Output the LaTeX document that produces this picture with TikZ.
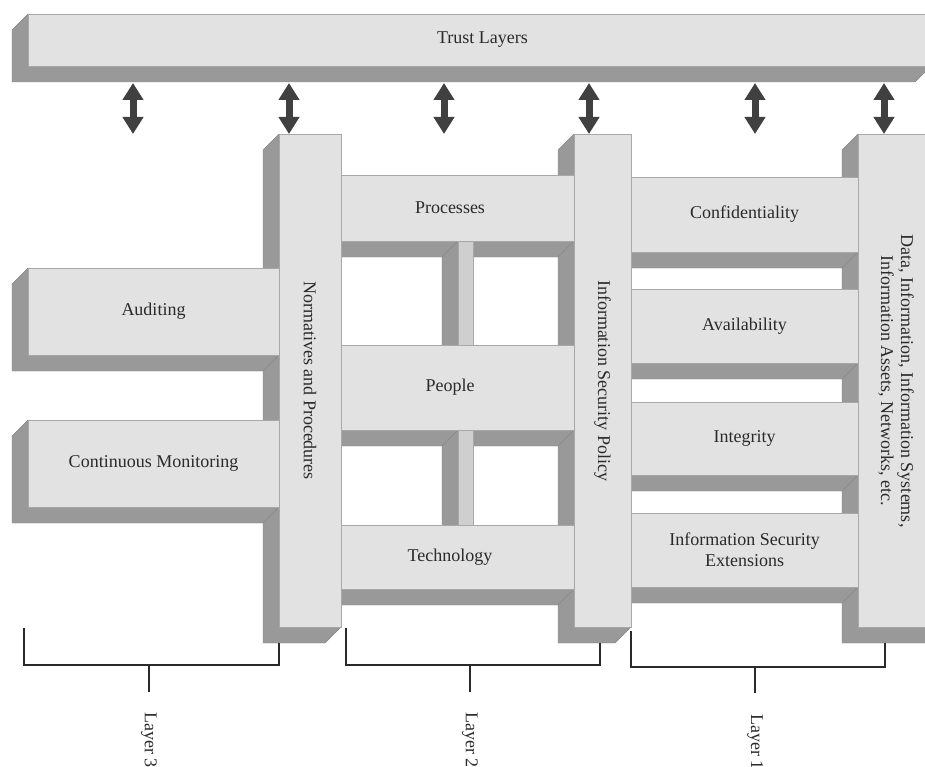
\documentclass[tikz,border=0pt]{standalone}
\usepackage{fontspec}
\setmainfont{Liberation Serif}
\usetikzlibrary{calc,arrows.meta}

\definecolor{facegray}{HTML}{E2E2E2}
\definecolor{postgray}{HTML}{CFCFCF}
\definecolor{sidegray}{HTML}{999999}
\definecolor{edgegray}{HTML}{A8A8A8}
\definecolor{arrowgray}{HTML}{404040}
\definecolor{inkgray}{HTML}{2A2A2A}

% drawing order: column sides, beam sides, beam faces, main, column faces
\pgfdeclarelayer{colside}
\pgfdeclarelayer{beamside}
\pgfdeclarelayer{beamface}
\pgfdeclarelayer{top}
\pgfsetlayers{colside,beamside,beamface,main,top}

\tikzset{
  txt/.style={text=inkgray, font=\fontsize{18}{21}\selectfont, align=center, inner sep=0pt},
  face/.style={txt, rectangle, draw=edgegray, line width=0.6pt, fill=facegray, outer sep=0pt},
  postface/.style={face, fill=postgray},
  side/.style={fill=sidegray, draw=sidegray!88!black, line width=0.4pt, line join=round},
  dblarrow/.style={draw=arrowgray, line width=7pt,
    {Triangle[width=20pt,length=17pt]}-{Triangle[width=20pt,length=17pt]}},
  bracket/.style={draw=inkgray, line width=1.8pt, line join=miter},
}

% front face of a slab: layer, style, name, x1, y1, x2, y2, text
\newcommand\slab[8]{%
  \begin{pgfonlayer}{#1}
    \node[#2, minimum width={(#6-#4)*1pt}, minimum height={(#7-#5)*1pt}]
      (#3) at ({(#4+#6)/2},{(#5+#7)/2}) {#8};
  \end{pgfonlayer}}
% bevelled depth of a slab, down and to the left: layer, node
\newcommand\depth[2]{%
  \begin{pgfonlayer}{#1}
    \path[side] (#2.north west) -- ++(-16pt,-16pt)
      -- ($(#2.south west)+(-16pt,-16pt)$)
      -- ($(#2.south east)+(-16pt,-16pt)$)
      -- (#2.south east) -- cycle;
  \end{pgfonlayer}}

\begin{document}
\begin{tikzpicture}[x=1pt, y=-1pt]
\useasboundingbox (0,0) rectangle (925,767);

% trust bar (runs on past the right edge)
\slab{beamface}{face}{trust}{28}{14}{931}{66}{\hspace*{6pt}Trust Layers}
\depth{colside}{trust}

% columns
\slab{top}{face}{norm}{279}{134}{341}{627}{}
\depth{colside}{norm}
\slab{top}{face}{isp}{574}{134}{631}{627}{}
\depth{colside}{isp}
\slab{top}{face}{data}{858}{134}{960}{627}{}
\depth{colside}{data}

\begin{pgfonlayer}{top}
  \node[txt, rotate=-90] (normtxt) at (norm.center) {Normatives and Procedures};
  \node[txt, rotate=-90] (isptxt) at (isp.center) {Information Security Policy};
  \node[txt, rotate=-90, font=\fontsize{18}{20}\selectfont] (datatxt) at (896,381)
    {Data, Information, Information Systems,\\Information Assets, Networks, etc.};
\end{pgfonlayer}

% layer 3 beams
\slab{beamface}{face}{audit}{28}{268}{279}{355}{Auditing}
\depth{beamside}{audit}
\slab{beamface}{face}{monitor}{28}{420}{279}{507}{Continuous Monitoring}
\depth{beamside}{monitor}

% layer 2 beams and posts
\slab{beamface}{face}{proc}{326}{175}{574}{241}{Processes}
\depth{beamside}{proc}
\slab{beamface}{face}{people}{326}{345}{574}{430}{People}
\depth{beamside}{people}
\slab{beamface}{face}{tech}{326}{525}{574}{589}{Technology}
\depth{beamside}{tech}
\slab{beamface}{postface}{postA}{458}{241}{473}{345}{}
\depth{beamside}{postA}
\slab{beamface}{postface}{postB}{458}{430}{473}{525}{}
\depth{beamside}{postB}

% layer 1 beams
\slab{beamface}{face}{conf}{631}{177}{858}{252}{Confidentiality}
\depth{beamside}{conf}
\slab{beamface}{face}{avail}{631}{289}{858}{363}{Availability}
\depth{beamside}{avail}
\slab{beamface}{face}{integ}{631}{402}{858}{475}{Integrity}
\depth{beamside}{integ}
\slab{beamface}{face}{ise}{631}{513}{858}{587}{Information Security\\Extensions}
\depth{beamside}{ise}

% links between the trust bar and the layers below
\foreach \i/\x in {1/133, 2/289, 3/444, 4/589, 5/755, 6/884} {
  \coordinate (up\i) at (\x,83);
  \coordinate (dn\i) at (\x,134);
  \draw[dblarrow] (up\i) -- (dn\i);
}

% layer brackets
\coordinate (l3a) at (24,628);  \coordinate (l3b) at (279,643);
\coordinate (l2a) at (346,628); \coordinate (l2b) at (600,643);
\coordinate (l1a) at (631,631); \coordinate (l1b) at (885,643);
\draw[bracket] (l3a) -- (24,665) -- (279,665) -- (l3b);
\draw[bracket] (l2a) -- (346,665) -- (600,665) -- (l2b);
\draw[bracket] (l1a) -- (631,667) -- (885,667) -- (l1b);

\coordinate (s3) at (149,665); \coordinate (s2) at (470,665); \coordinate (s1) at (755,667);
\node[txt, rotate=-90, anchor=west] (lay3) at (149,712) {Layer 3};
\node[txt, rotate=-90, anchor=west] (lay2) at (470,712) {Layer 2};
\node[txt, rotate=-90, anchor=west] (lay1) at (755,714) {Layer 1};
\draw[bracket] (s3) -- (149,692);
\draw[bracket] (s2) -- (470,692);
\draw[bracket] (s1) -- (755,693);
\end{tikzpicture}
\end{document}
